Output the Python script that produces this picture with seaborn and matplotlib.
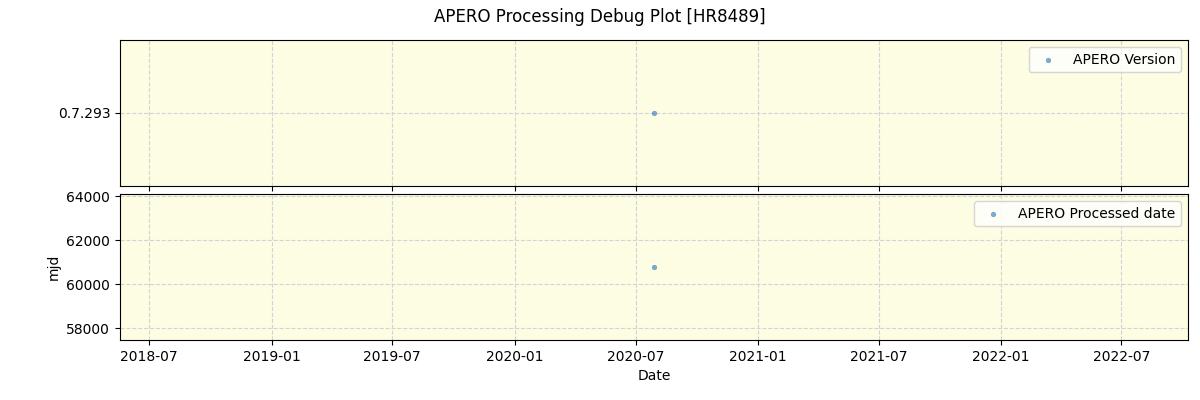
import matplotlib
matplotlib.use("Agg")
import matplotlib.pyplot as plt
import seaborn as sns
import pandas as pd
import numpy as np

dates = pd.to_datetime(["2020-07-28"])
versions = ["0.7.293"]
processed_mjd = [60770]

df = pd.DataFrame({"date": dates, "ver": [0]*len(versions), "mjd": processed_mjd})

fig, (ax1, ax2) = plt.subplots(2, 1, figsize=(12, 4), dpi=100, sharex=True)
fig.subplots_adjust(left=0.1, right=0.99, top=0.9, bottom=0.15, hspace=0.058)
fig.suptitle("APERO Processing Debug Plot [HR8489]")

for ax in (ax1, ax2):
    ax.set_facecolor("#fdfde3")
    ax.grid(True, linestyle="--", color="lightgray")
    ax.set_axisbelow(True)

sns.scatterplot(data=df, x="date", y="ver", ax=ax1, s=12, alpha=0.6,
                color="C0", edgecolor="C0", label="APERO Version")
ax1.set_yticks([0])
ax1.set_yticklabels(versions)
ax1.set_ylim(-1, 1)
ax1.set_ylabel("")
ax1.legend(loc="upper right")

sns.scatterplot(data=df, x="date", y="mjd", ax=ax2, s=12, alpha=0.6,
                color="C0", edgecolor="C0", label="APERO Processed date")
ax2.set_ylim(57467, 64100)
ax2.set_yticks([58000, 60000, 62000, 64000])
ax2.set_ylabel("mjd")
ax2.set_xlabel("Date")
ax2.legend(loc="upper right")
ax2.set_xlim(pd.Timestamp("2018-05-18"), pd.Timestamp("2022-10-09"))
ax1.tick_params(labelbottom=False)

fig.savefig("out.png")
